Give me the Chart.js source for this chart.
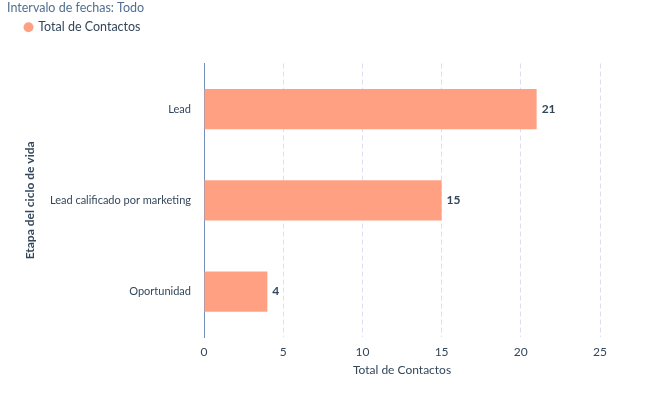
<!DOCTYPE html>
<html><head><meta charset="utf-8">
<script src="https://cdn.jsdelivr.net/npm/chart.js@4/dist/chart.umd.min.js"></script>
<style>html,body{margin:0;padding:0;background:#fff}#wrap{width:659px;height:398px}</style>
</head><body><div id="wrap"><canvas id="c" width="659" height="398"></canvas></div>
<script>
const categories = ["Lead", "Lead calificado por marketing", "Oportunidad"];
const totalContactos = [21, 15, 4];
const xTicks = [0, 5, 10, 15, 20, 25];
const seriesName = "Total de Contactos";

const FONT = "Lato, 'Noto Sans', sans-serif";
const valueLabels = {
  id: 'valueLabels',
  afterDatasetsDraw(chart) {
    const ctx = chart.ctx;
    const meta = chart.getDatasetMeta(0);
    ctx.save();
    ctx.font = "bold 12px " + FONT;
    ctx.fillStyle = '#33475b';
    ctx.textBaseline = 'middle';
    ctx.textAlign = 'left';
    meta.data.forEach((bar, i) => {
      ctx.fillText(String(chart.data.datasets[0].data[i]), bar.x + 5, bar.y);
    });
    ctx.restore();
  }
};
// extra space below the legend, and shift legend to the right
const legendTweak = {
  id: 'legendTweak',
  beforeLayout(chart) {
    const lg = chart.legend;
    if (lg && !lg._patched) {
      const f = lg.fit;
      lg.fit = function () { f.call(this); this.height += 20; };
      lg._patched = true;
    }
  },
  beforeDraw(chart) {
    const lg = chart.legend;
    if (lg && !lg._shifted) { lg.left += 12; lg.right += 12; lg._shifted = true; }
  }
};

new Chart(document.getElementById('c'), {
  type: 'bar',
  data: {
    labels: categories,
    datasets: [{
      label: seriesName,
      data: totalContactos,
      backgroundColor: '#ffa083',
      borderWidth: 0,
      categoryPercentage: 1,
      barPercentage: 0.44
    }]
  },
  options: {
    indexAxis: 'y',
    responsive: false,
    animation: false,
    devicePixelRatio: 1,
    layout: { padding: { left: 7, right: 59, top: 0, bottom: 17 } },
    plugins: {
      title: {
        display: true, text: 'Intervalo de fechas: Todo', align: 'start',
        color: '#516f90', font: { family: FONT, size: 12.5, weight: 'normal' },
        padding: { top: 0, bottom: 0 }
      },
      legend: {
        display: true, align: 'start',
        labels: { usePointStyle: true, pointStyle: 'circle', boxWidth: 7, boxHeight: 7,
          color: '#33475b', font: { family: FONT, size: 12.5 }, padding: 6 }
      },
      tooltip: { enabled: false }
    },
    scales: {
      x: {
        min: 0, max: 25,
        afterBuildTicks: (s) => { s.ticks = xTicks.map(v => ({ value: v })); },
        ticks: { color: '#33475b', font: { family: FONT, size: 12 }, padding: 8 },
        grid: { display: true, color: (c) => c.tick && c.tick.value === 0 ? 'rgba(0,0,0,0)' : '#dcdff0',
          tickLength: 0, drawTicks: false },
        border: { display: false, dash: [5, 3] },
        title: { display: true, text: 'Total de Contactos', color: '#33475b',
          font: { family: FONT, size: 12 }, padding: { top: -5, bottom: 4 } }
      },
      y: {
        afterFit: (s) => { s.width = 197; },
        ticks: { color: '#33475b', font: { family: FONT, size: 11 }, padding: 13 },
        grid: { display: false, drawTicks: false },
        border: { display: true, color: '#7590b8', width: 1 },
        title: { display: true, text: 'Etapa del ciclo de vida', color: '#33475b',
          font: { family: FONT, size: 12, weight: 'bold' }, padding: { top: 16, bottom: 4 } }
      }
    }
  },
  plugins: [valueLabels, legendTweak]
});
</script></body></html>
